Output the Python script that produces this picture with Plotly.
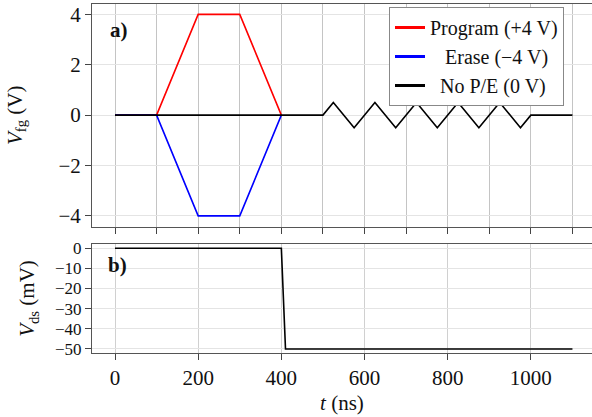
import plotly.graph_objects as go
from plotly.subplots import make_subplots

# ---- data ----
t_program = [0, 100, 200, 300, 400]
v_program = [0, 0, 4, 4, 0]
t_erase = [0, 100, 200, 300, 400]
v_erase = [0, 0, -4, -4, 0]
t_nope = [0, 500, 525, 575, 625, 675, 725, 775, 825, 875, 925, 975, 1000, 1100]
v_nope = [0, 0, 0.5, -0.5, 0.5, -0.5, 0.5, -0.5, 0.5, -0.5, 0.5, -0.5, 0, 0]
t_vds = [0, 400, 410, 1100]
v_vds = [0, 0, -50, -50]

names = ["Program (+4 V)", "&nbsp;&nbsp;&nbsp;Erase (−4 V)", "&nbsp;&nbsp;No P/E (0 V)"]
colors = ["#ff0000", "#0000ff", "#000000"]

FONT = "Liberation Serif"
W, H = 592, 417
L, R, T, B = 92, 0, 4, 64
ph = H - T - B

fig = make_subplots(rows=2, cols=1, shared_xaxes=False, vertical_spacing=0.0)

lw = 1.6
fig.add_trace(go.Scatter(x=t_program, y=v_program, mode="lines",
                         line=dict(color=colors[0], width=lw), showlegend=False), row=1, col=1)
fig.add_trace(go.Scatter(x=t_erase, y=v_erase, mode="lines",
                         line=dict(color=colors[1], width=lw), showlegend=False), row=1, col=1)
fig.add_trace(go.Scatter(x=t_nope, y=v_nope, mode="lines",
                         line=dict(color=colors[2], width=lw), showlegend=False), row=1, col=1)
# legend entries (thicker sample lines)
for n, c in zip(names, colors):
    fig.add_trace(go.Scatter(x=[None], y=[None], mode="lines", name=n,
                             line=dict(color=c, width=3)), row=1, col=1)

fig.add_trace(go.Scatter(x=t_vds, y=v_vds, mode="lines",
                         line=dict(color="#000000", width=lw), showlegend=False), row=2, col=1)

top_lo = (H - B - 226.5) / ph
bot_hi = (H - B - 244) / ph

xr = [-55.3, 1147]
axis_style = dict(showline=True, linecolor="#555555", linewidth=1,
                  ticks="outside", ticklen=6, tickcolor="#444444", zeroline=False)

fig.update_layout(
    width=W, height=H,
    margin=dict(l=L, r=R, t=T, b=B),
    paper_bgcolor="white", plot_bgcolor="white",
    font=dict(family=FONT, size=21, color="#111111"),
    xaxis=dict(domain=[0, 1], range=xr, dtick=100, tick0=0, showticklabels=False,
               gridcolor="#c4c4c4", gridwidth=1, mirror=True, anchor="y",
               tickfont=dict(family=FONT, size=21, color="#111111"), **axis_style),
    yaxis=dict(domain=[top_lo, 1], range=[-4.42, 4.41], dtick=2, tick0=0,
               gridcolor="#e4e4e4", gridwidth=1, anchor="x",
               tickfont=dict(family=FONT, size=21, color="#111111"),
               title=dict(text="<i>V</i><sub>fg</sub> (V)", standoff=30,
                          font=dict(family=FONT, size=21)),
               **axis_style),
    xaxis2=dict(domain=[0, 1], range=xr, dtick=200, tick0=0,
                gridcolor="#d0d0d0", gridwidth=1, mirror=True, anchor="y2",
                tickfont=dict(family=FONT, size=21, color="#111111"),
                title=dict(text="<i>t</i> (ns)", standoff=6, font=dict(family=FONT, size=21)),
                **axis_style),
    yaxis2=dict(domain=[0, bot_hi], range=[-52, 2.1], dtick=10, tick0=0,
                gridcolor="#e4e4e4", gridwidth=1, anchor="x2",
                tickfont=dict(family=FONT, size=17, color="#111111"),
                title=dict(text="<i>V</i><sub>ds</sub> (mV)", standoff=14,
                           font=dict(family=FONT, size=21)),
                **axis_style),
    legend=dict(x=(389 - L) / (W - L - R), y=(H - B - 7) / ph, xanchor="left", yanchor="top",
                bgcolor="white", bordercolor="#888888", borderwidth=1,
                font=dict(family=FONT, size=20, color="#111111"),
                tracegroupgap=0, itemwidth=30),
)
# panel labels placed in data coordinates derived from pixel estimates
px_per_ns = 0.416
fig.add_annotation(text="<b>a)</b>", x=(108 - 114.7) / px_per_ns, y=4 - (30 - 14.3) / 25.25,
                   xref="x", yref="y", showarrow=False, xanchor="left", yanchor="middle",
                   font=dict(family=FONT, size=21, color="#111111"))
fig.add_annotation(text="<b>b)</b>", x=(106 - 114.7) / px_per_ns, y=0 - (265 - 248.3) / 2.02,
                   xref="x2", yref="y2", showarrow=False, xanchor="left", yanchor="middle",
                   font=dict(family=FONT, size=21, color="#111111"))

fig.write_html("out.html")
